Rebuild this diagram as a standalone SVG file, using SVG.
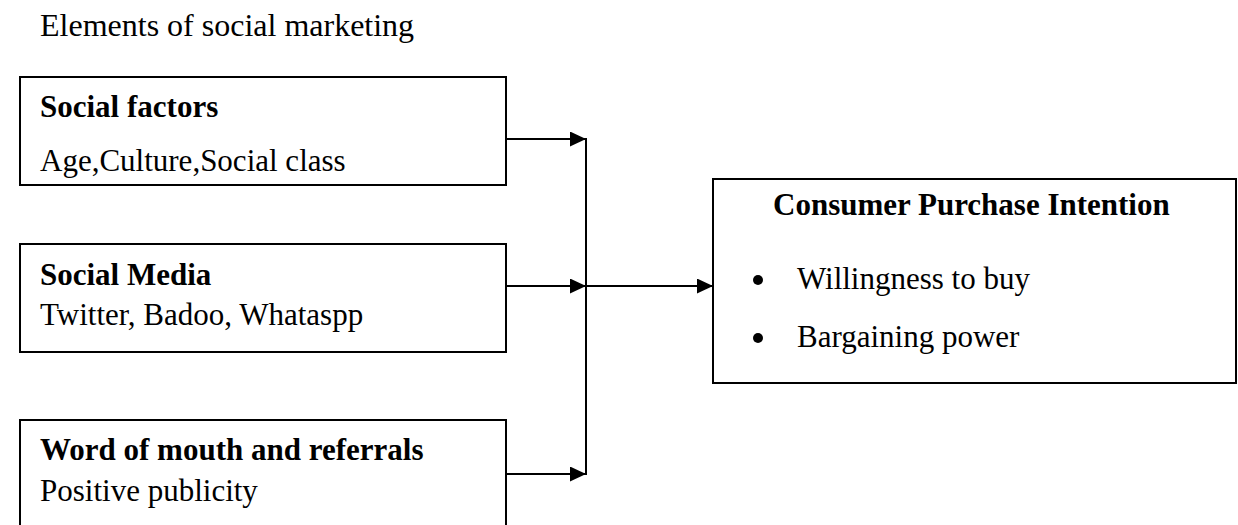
<svg xmlns="http://www.w3.org/2000/svg" width="1238" height="525" viewBox="0 0 1238 525">
<style>
.box{fill:#fff;stroke:#000;stroke-width:2}
.t{font-family:"Liberation Serif","Times New Roman",serif;font-size:31px;fill:#000}
.b{font-weight:bold}
.c{fill:none;stroke:#000;stroke-width:2}
</style>
<defs>
<marker id="ah" markerWidth="16" markerHeight="15" refX="16" refY="7.5" orient="auto" markerUnits="userSpaceOnUse">
<path d="M0,0 L16,7.5 L0,15 Z" fill="#000"/>
</marker>
</defs>
<rect width="1238" height="525" fill="#fff"/>
<text class="t" x="40" y="36" style="font-size:32px">Elements of social marketing</text>
<g id="social-factors">
<rect class="box" x="20" y="77" width="486" height="108"/>
<text class="t b" x="40" y="117">Social factors</text>
<text class="t" x="40" y="171">Age,Culture,Social class</text>
</g>
<g id="social-media">
<rect class="box" x="20" y="244" width="486" height="108"/>
<text class="t b" x="40" y="285">Social Media</text>
<text class="t" x="40" y="325">Twitter, Badoo, Whataspp</text>
</g>
<g id="word-of-mouth">
<rect class="box" x="20" y="420" width="486" height="120"/>
<text class="t b" x="40" y="460">Word of mouth and referrals</text>
<text class="t" x="40" y="501">Positive publicity</text>
</g>
<g id="consumer-purchase-intention">
<rect class="box" x="713" y="179" width="523" height="204"/>
<text class="t b" x="773" y="215">Consumer Purchase Intention</text>
<circle cx="758" cy="280" r="5" fill="#000"/>
<text class="t" x="797" y="289">Willingness to buy</text>
<circle cx="758" cy="338" r="5" fill="#000"/>
<text class="t" x="797" y="347">Bargaining power</text>
</g>
<g id="connectors">
<line class="c" x1="506" y1="139" x2="586" y2="139" marker-end="url(#ah)"/>
<line class="c" x1="506" y1="286" x2="586" y2="286" marker-end="url(#ah)"/>
<line class="c" x1="506" y1="474" x2="586" y2="474" marker-end="url(#ah)"/>
<line class="c" x1="586" y1="138" x2="586" y2="475"/>
<line class="c" x1="586" y1="286" x2="713" y2="286" marker-end="url(#ah)"/>
</g>
</svg>
